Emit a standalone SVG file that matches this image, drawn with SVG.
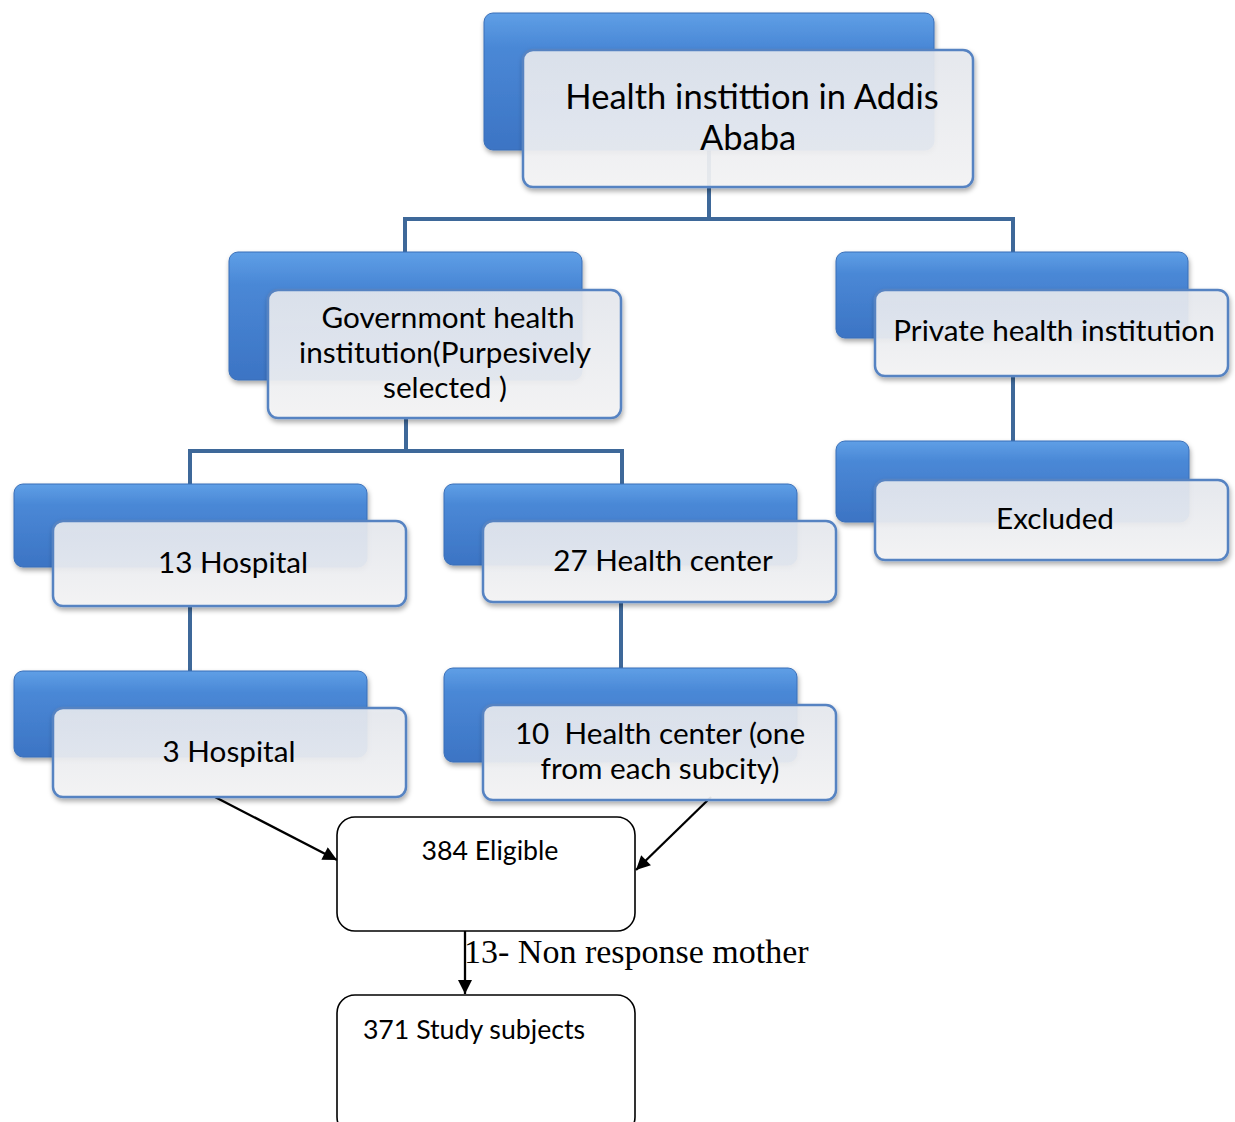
<svg xmlns="http://www.w3.org/2000/svg" width="1235" height="1122" viewBox="0 0 1235 1122">
<defs>
<linearGradient id="gBack" x1="0" y1="0" x2="0" y2="1">
<stop offset="0" stop-color="#5f9fe6"/>
<stop offset="0.25" stop-color="#4a88d6"/>
<stop offset="1" stop-color="#3c74c4"/>
</linearGradient>
<linearGradient id="gFront" x1="0" y1="0" x2="0" y2="1">
<stop offset="0" stop-color="#e7eaf0"/>
<stop offset="1" stop-color="#f6f6f7"/>
</linearGradient>
<filter id="sh" x="-10%" y="-10%" width="120%" height="130%">
<feDropShadow dx="1" dy="3" stdDeviation="2.5" flood-color="#000" flood-opacity="0.35"/>
</filter>
<marker id="arr" viewBox="0 0 10 10" refX="10" refY="5" markerWidth="17" markerHeight="14" markerUnits="userSpaceOnUse" orient="auto">
<path d="M0,0 L10,5 L0,10 z" fill="#000"/>
</marker>
</defs>
<style>
.back{fill:url(#gBack);stroke:#3a6fb8;stroke-width:1;filter:url(#sh)}
.front{fill:url(#gFront);fill-opacity:0.9;stroke:#5683c2;stroke-width:2.5;filter:url(#sh)}
.conn{stroke:#3e6899;stroke-width:4;fill:none}
.arrow{stroke:#000;stroke-width:2.3;fill:none;marker-end:url(#arr)}
.box{fill:#fff;stroke:#000;stroke-width:1.6}
.t{font-family:Lato,"Liberation Sans",sans-serif;fill:#000;text-anchor:middle}
.big{font-size:34.5px}
.mid{font-size:29.7px}
.sm{font-size:26.7px}
.serif{font-family:"Liberation Serif","DejaVu Serif",serif;font-size:34px;fill:#000}
</style>
<g id="connectors">
<polyline class="conn" points="709,150 709,219"/>
<polyline class="conn" points="405,252 405,219 1013,219 1013,252"/>
<polyline class="conn" points="406,418 406,451"/>
<polyline class="conn" points="190,484 190,451 622,451 622,484"/>
<polyline class="conn" points="1013,376 1013,441"/>
<polyline class="conn" points="190,606 190,671"/>
<polyline class="conn" points="621,602 621,668"/>
<line class="arrow" x1="215" y1="797" x2="337" y2="860"/>
<line class="arrow" x1="711" y1="797" x2="636" y2="870"/>
<line class="arrow" x1="465" y1="931" x2="465" y2="994"/>
</g>
<g id="n-top">
<rect class="back" x="484" y="13" width="450" height="137" rx="9"/>
<rect class="front" x="523" y="50" width="450" height="137" rx="10"/>
<text class="t big" x="752" y="109">Health instittion in Addis</text>
<text class="t big" x="748" y="150">Ababa</text>
</g>
<g id="n-gov">
<rect class="back" x="229" y="252" width="353" height="128" rx="9"/>
<rect class="front" x="268" y="290" width="353" height="128" rx="10"/>
<text class="t mid" x="448" y="328">Governmont health</text>
<text class="t mid" x="445" y="363">institution(Purpesively</text>
<text class="t mid" x="445" y="398">selected )</text>
</g>
<g id="n-private">
<rect class="back" x="836" y="252" width="352" height="86" rx="9"/>
<rect class="front" x="875" y="290" width="353" height="86" rx="10"/>
<text class="t mid" x="1054" y="341">Private health institution</text>
</g>
<g id="n-excluded">
<rect class="back" x="836" y="441" width="353" height="81" rx="9"/>
<rect class="front" x="875" y="480" width="353" height="80" rx="10"/>
<text class="t mid" x="1055" y="529">Excluded</text>
</g>
<g id="n-13hosp">
<rect class="back" x="14" y="484" width="353" height="83" rx="9"/>
<rect class="front" x="53" y="521" width="353" height="85" rx="10"/>
<text class="t mid" x="233" y="573">13 Hospital</text>
</g>
<g id="n-27hc">
<rect class="back" x="444" y="484" width="353" height="81" rx="9"/>
<rect class="front" x="483" y="521" width="353" height="81" rx="10"/>
<text class="t mid" x="663" y="571">27 Health center</text>
</g>
<g id="n-3hosp">
<rect class="back" x="14" y="671" width="353" height="86" rx="9"/>
<rect class="front" x="53" y="708" width="353" height="89" rx="10"/>
<text class="t mid" x="229" y="762">3 Hospital</text>
</g>
<g id="n-10hc">
<rect class="back" x="444" y="668" width="353" height="94" rx="9"/>
<rect class="front" x="483" y="705" width="353" height="95" rx="10"/>
<text class="t mid" x="660" y="744" xml:space="preserve">10  Health center (one</text>
<text class="t mid" x="660" y="779">from each subcity)</text>
</g>
<g id="n-eligible">
<rect class="box" x="337" y="817" width="298" height="114" rx="18"/>
<text class="t sm" x="490" y="860">384 Eligible</text>
</g>
<g id="n-study">
<rect class="box" x="337" y="995" width="298" height="140" rx="18"/>
<text class="t sm" x="474" y="1039">371 Study subjects</text>
</g>
<text class="serif" x="464" y="963">13- Non response mother</text>
</svg>
